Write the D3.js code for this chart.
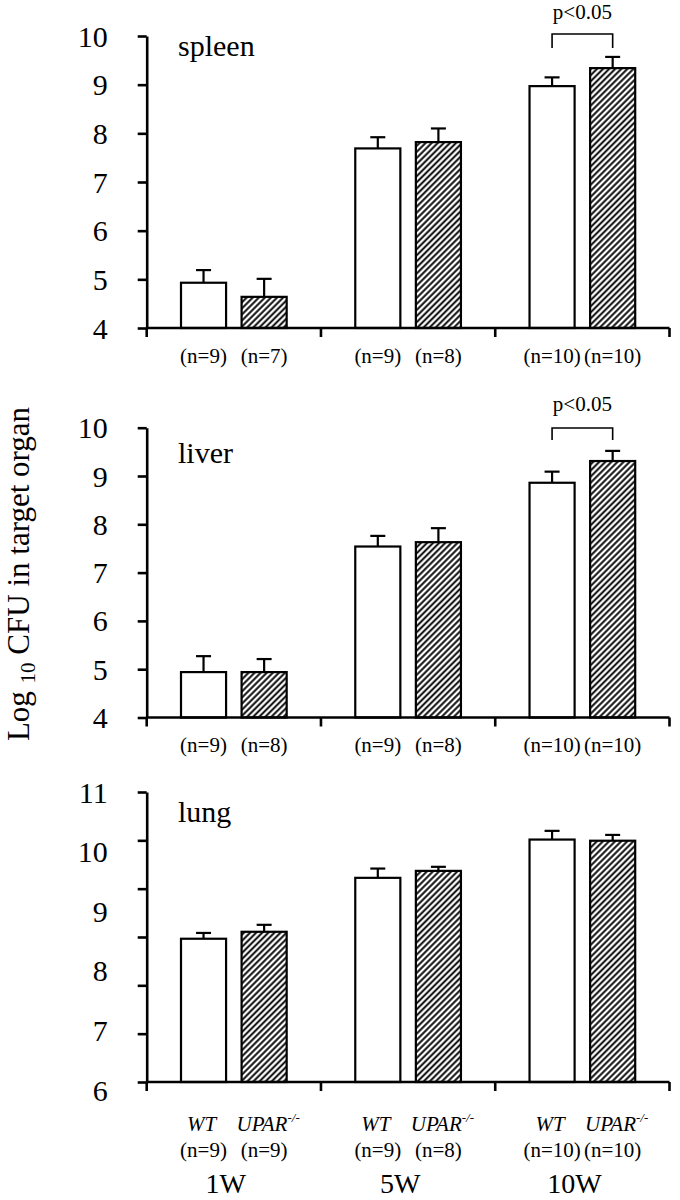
<!DOCTYPE html>
<html>
<head>
<meta charset="utf-8">
<script src="https://cdn.jsdelivr.net/npm/d3@7"></script>
<style>
  html, body { margin: 0; padding: 0; background: #fff; }
  svg { display: block; }
  text { font-family: "Liberation Serif", "Times New Roman", serif; fill: #000; }
</style>
</head>
<body>
<svg id="chart" width="680" height="1200"></svg>
<script>
// ---------------- data ----------------
const weeks = ["1W", "5W", "10W"];
const groups = ["WT", "UPAR"];

const spleenWT = [4.93, 7.69, 8.97];
const spleenWTse = [0.26, 0.23, 0.18];
const spleenUPAR = [4.64, 7.82, 9.34];
const spleenUPARse = [0.37, 0.28, 0.23];
const spleenNWT = ["(n=9)", "(n=9)", "(n=10)"];
const spleenNUPAR = ["(n=7)", "(n=8)", "(n=10)"];

const liverWT = [4.94, 7.54, 8.86];
const liverWTse = [0.33, 0.22, 0.23];
const liverUPAR = [4.94, 7.63, 9.31];
const liverUPARse = [0.27, 0.29, 0.21];
const liverNWT = ["(n=9)", "(n=9)", "(n=10)"];
const liverNUPAR = ["(n=8)", "(n=8)", "(n=10)"];

const lungWT = [8.47, 9.52, 10.18];
const lungWTse = [0.10, 0.16, 0.15];
const lungUPAR = [8.59, 9.64, 10.16];
const lungUPARse = [0.12, 0.07, 0.10];
const lungNWT = ["(n=9)", "(n=9)", "(n=10)"];
const lungNUPAR = ["(n=9)", "(n=8)", "(n=10)"];

const spleenTicks = [4, 5, 6, 7, 8, 9, 10];
const liverTicks = [4, 5, 6, 7, 8, 9, 10];
const lungTickLabels = [6, 7, 8, 9, 10, 11];
const lungTickCount = 7;            // tick marks on the lung axis (not aligned with labels in original)

const spleenSig = { week: "10W", label: "p<0.05" };
const liverSig = { week: "10W", label: "p<0.05" };

const groupLabels = ["WT", "UPAR"];
const yTitle = ["Log", "10", " CFU in target organ"];

// ---------------- layout ----------------
const svg = d3.select("#chart");
const defs = svg.append("defs");
const HS = 4.3;
const pat = defs.append("pattern")
  .attr("id", "hatch")
  .attr("patternUnits", "userSpaceOnUse")
  .attr("width", HS).attr("height", HS)
  .attr("patternTransform", "rotate(45)");
pat.append("rect").attr("width", HS).attr("height", HS).attr("fill", "#fff");
pat.append("line").attr("x1", HS / 2).attr("y1", 0).attr("x2", HS / 2).attr("y2", HS)
  .attr("stroke", "#000").attr("stroke-width", 1.9);

const panels = [
  { name: "spleen", wt: spleenWT, wtse: spleenWTse, up: spleenUPAR, upse: spleenUPARse,
    nwt: spleenNWT, nup: spleenNUPAR, domain: [4, 10], yr: [328, 36], ticks: spleenTicks,
    sig: spleenSig, titleY: 56, nY: 363, sigTop: 34, sigLeg: 14, sigTextY: 19 },
  { name: "liver", wt: liverWT, wtse: liverWTse, up: liverUPAR, upse: liverUPARse,
    nwt: liverNWT, nup: liverNUPAR, domain: [4, 10], yr: [717.5, 427.7], ticks: liverTicks,
    sig: liverSig, titleY: 463, nY: 752, sigTop: 428, sigLeg: 12, sigTextY: 411 },
  { name: "lung", wt: lungWT, wtse: lungWTse, up: lungUPAR, upse: lungUPARse,
    nwt: lungNWT, nup: lungNUPAR, domain: [6, 11], yr: [1082, 792], ticks: null,
    sig: null, titleY: 822, nY: 1157, groupY: 1131, weekY: 1193 }
];

const X0 = 146.7, X1 = 669.5;
const x = d3.scaleBand().domain(weeks).range([X0, X1]).paddingInner(0).paddingOuter(0);
const xi = d3.scaleBand().domain(groups).range([0, x.bandwidth()]).paddingInner(0.256).paddingOuter(0.566);
const AXW = 2.6, TICK = 9;

panels.forEach(p => {
  const g = svg.append("g");
  const y = d3.scaleLinear().domain(p.domain).range(p.yr);
  const base = y(p.domain[0]);

  const rows = weeks.map((w, i) => [
    { w, grp: "WT", v: p.wt[i], se: p.wtse[i], n: p.nwt[i] },
    { w, grp: "UPAR", v: p.up[i], se: p.upse[i], n: p.nup[i] }
  ]).flat();

  // error bars (drawn first so the bar outline covers the stem base)
  const cx = d => x(d.w) + xi(d.grp) + xi.bandwidth() / 2;
  g.selectAll("line.err").data(rows).join("line")
    .attr("x1", cx).attr("x2", cx)
    .attr("y1", d => y(d.v)).attr("y2", d => y(d.v + d.se))
    .attr("stroke", "#000").attr("stroke-width", 2.2);
  g.selectAll("line.cap").data(rows).join("line")
    .attr("x1", d => cx(d) - 7.5).attr("x2", d => cx(d) + 7.5)
    .attr("y1", d => y(d.v + d.se)).attr("y2", d => y(d.v + d.se))
    .attr("stroke", "#000").attr("stroke-width", 2.2);

  // bars
  g.selectAll("rect.bar").data(rows).join("rect")
    .attr("class", "bar")
    .attr("x", d => x(d.w) + xi(d.grp))
    .attr("y", d => y(d.v))
    .attr("width", xi.bandwidth())
    .attr("height", d => base - y(d.v))
    .attr("fill", d => d.grp === "WT" ? "#fff" : "url(#hatch)")
    .attr("stroke", "#000").attr("stroke-width", 2.2);

  // y axis
  let tickVals;
  if (p.ticks) tickVals = p.ticks;
  else tickVals = d3.range(lungTickCount).map(k => p.domain[0] + k * (p.domain[1] - p.domain[0]) / (lungTickCount - 1));
  const yAxis = d3.axisLeft(y).tickValues(tickVals).tickSize(TICK).tickSizeOuter(0).tickFormat("");
  const ya = g.append("g").attr("transform", `translate(${X0},0)`).call(yAxis);
  ya.selectAll("path, line").attr("stroke", "#000").attr("stroke-width", AXW);
  g.append("line").attr("x1", X0).attr("x2", X0).attr("y1", base).attr("y2", base + TICK)
    .attr("stroke", "#000").attr("stroke-width", AXW);

  // y labels
  let labelVals, ly;
  if (p.ticks) { labelVals = p.ticks; ly = y; }
  else {
    labelVals = lungTickLabels;
    ly = d3.scaleLinear().domain(p.domain).range([base + 8, y(p.domain[1])]);
  }
  g.selectAll("text.ylab").data(labelVals).join("text")
    .attr("x", X0 - 39).attr("y", d => ly(d))
    .attr("dy", "0.35em")
    .attr("text-anchor", "end")
    .attr("font-size", 30)
    .text(d => d);

  // x axis
  g.append("line").attr("x1", X0).attr("x2", X1).attr("y1", base).attr("y2", base)
    .attr("stroke", "#000").attr("stroke-width", AXW);
  const edges = weeks.slice(1).map(w => x(w)).concat([x.range()[1]]);
  g.selectAll("line.xt").data(edges).join("line")
    .attr("x1", d => d).attr("x2", d => d).attr("y1", base).attr("y2", base + TICK)
    .attr("stroke", "#000").attr("stroke-width", AXW);

  // panel title
  g.append("text").attr("x", x(weeks[0]) + xi("WT") - 3).attr("y", p.titleY)
    .attr("font-size", 30).text(p.name);

  // n labels
  g.selectAll("text.n").data(rows).join("text")
    .attr("x", cx).attr("y", p.nY)
    .attr("text-anchor", "middle").attr("font-size", 21)
    .text(d => d.n);

  // significance bracket
  if (p.sig) {
    const a = x(p.sig.week) + xi("WT") + xi.bandwidth() / 2;
    const b = x(p.sig.week) + xi("UPAR") + xi.bandwidth() / 2;
    g.append("path")
      .attr("d", `M${a},${p.sigTop + p.sigLeg}V${p.sigTop}H${b}V${p.sigTop + p.sigLeg}`)
      .attr("fill", "none").attr("stroke", "#000").attr("stroke-width", 1.6);
    g.append("text").attr("x", (a + b) / 2).attr("y", p.sigTextY)
      .attr("text-anchor", "middle").attr("font-size", 21).text(p.sig.label);
  }

  // group labels + week labels (bottom panel)
  if (p.groupY) {
    weeks.forEach(w => {
      groupLabels.forEach((gl, j) => {
        const t = g.append("text")
          .attr("x", x(w) + xi(groups[j]) + xi.bandwidth() / 2 + (j === 1 ? 4 : -2))
          .attr("y", p.groupY)
          .attr("text-anchor", "middle").attr("font-size", 21).attr("font-style", "italic");
        t.append("tspan").text(gl);
        if (j === 1) t.append("tspan").attr("font-size", 13).attr("dy", -9).text("-/-");
      });
    });
    g.selectAll("text.wk").data(weeks).join("text")
      .attr("x", d => x(d) + x.bandwidth() / 2 - 8)
      .attr("y", p.weekY)
      .attr("text-anchor", "middle").attr("font-size", 28)
      .text(d => d);
  }
});

// y-axis title
const tt = svg.append("text")
  .attr("transform", "translate(29,574) rotate(-90)")
  .attr("text-anchor", "middle")
  .attr("font-size", 31);
tt.append("tspan").text(yTitle[0] + " ");
tt.append("tspan").attr("font-size", 21).attr("dy", 6).text(yTitle[1]);
tt.append("tspan").attr("dy", -6).text(yTitle[2]);
</script>
</body>
</html>
